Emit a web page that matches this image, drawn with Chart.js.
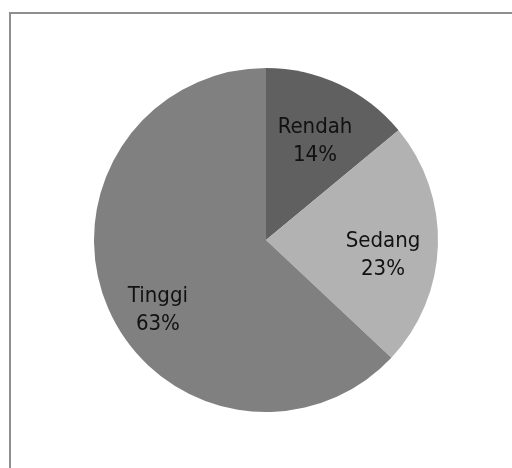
<!DOCTYPE html>
<html>
<head>
<meta charset="utf-8">
<script src="https://cdn.jsdelivr.net/npm/chart.js@4"></script>
<style>
  html, body { margin: 0; padding: 0; background: #fff; }
  #wrap { width: 512px; height: 468px; position: relative; }
</style>
</head>
<body>
<div id="wrap"><canvas id="pie"></canvas></div>
<script>
const categories = ['Rendah', 'Sedang', 'Tinggi'];
const percents = [14, 23, 63];
const sliceColors = ['#606060', '#b2b2b2', '#808080'];

// frame around the chart, cut off at right and bottom like the original
const framePlugin = {
    id: 'frame',
    beforeDraw(chart) {
        const ctx = chart.ctx;
        ctx.save();
        ctx.strokeStyle = '#8e8e8e';
        ctx.lineWidth = 2;
        ctx.strokeRect(10, 13, chart.width + 20, chart.height + 20);
        ctx.restore();
    }
};

// name + percent inside each slice
const sliceLabels = {
    id: 'sliceLabels',
    afterDatasetsDraw(chart, args, opts) {
        const ctx = chart.ctx;
        const meta = chart.getDatasetMeta(0);
        ctx.save();
        ctx.font = '22px "DejaVu Sans Condensed", "DejaVu Sans"';
        ctx.fillStyle = '#111';
        ctx.textAlign = 'center';
        ctx.textBaseline = 'alphabetic';
        meta.data.forEach((arc, i) => {
            const p = arc.getProps(['x', 'y', 'startAngle', 'endAngle', 'outerRadius'], true);
            const mid = (p.startAngle + p.endAngle) / 2 + (opts.shift[i] || 0);
            const r = p.outerRadius * opts.factor[i];
            const x = p.x + Math.cos(mid) * r;
            const y = p.y + Math.sin(mid) * r;
            ctx.fillText(categories[i], x, y - 14);
            ctx.fillText(percents[i] + '%', x, y + 14);
        });
        ctx.restore();
    }
};

new Chart(document.getElementById('pie'), {
    type: 'pie',
    data: {
        labels: categories,
        datasets: [{
            data: percents,
            backgroundColor: sliceColors,
            borderWidth: 0
        }]
    },
    options: {
        responsive: true,
        maintainAspectRatio: false,
        animation: false,
        layout: { padding: { left: 94, right: 74, top: 68, bottom: 56 } },
        plugins: {
            legend: { display: false },
            tooltip: { enabled: false },
            sliceLabels: { factor: [0.609, 0.691, 0.768], shift: [0.047, 0.147, -0.204] }
        }
    },
    plugins: [framePlugin, sliceLabels]
});
</script>
</body>
</html>
